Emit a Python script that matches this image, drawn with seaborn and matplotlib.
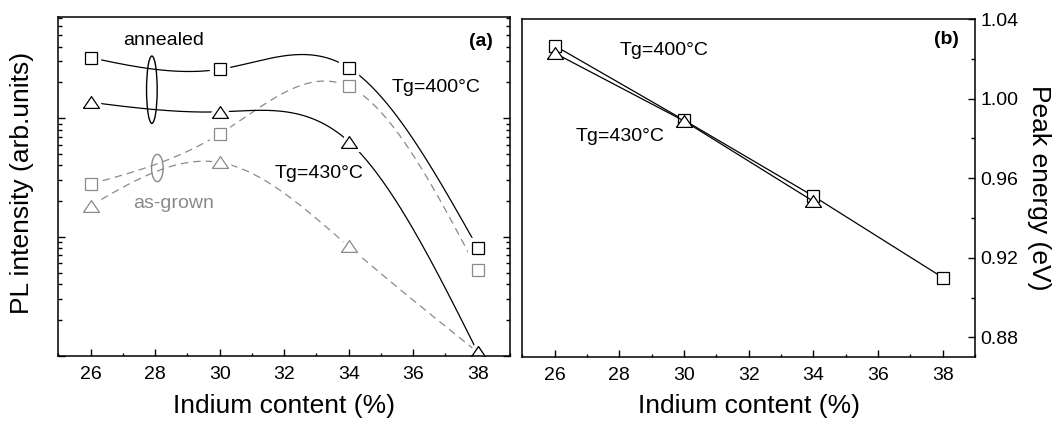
import numpy as np
import pandas as pd
import matplotlib
matplotlib.use("Agg")
import matplotlib.pyplot as plt
import seaborn as sns
from matplotlib.patches import Ellipse
from matplotlib.ticker import MultipleLocator, LogLocator, NullFormatter, FormatStrFormatter

# data
indium = [26, 30, 34, 38]
pl_annealed_400 = [32.3, 25.8, 26.6, 0.81]
pl_annealed_430 = [13.6, 11.3, 6.36, 0.107]
pl_grown_400 = [2.79, 7.35, 18.5, 0.524]
pl_grown_430 = [1.83, 4.24, 0.834, 0.107]

energy_400 = [1.0266, 0.9892, 0.9510, 0.9101]
indium_430 = [26, 30, 34]
energy_430 = [1.0229, 0.9888, 0.9484]

GRAY = "#8a8a8a"
TRI = [(-1, -0.74), (1, -0.74), (0, 0.74), (-1, -0.74)]


def spline_curve(xk, yk, num=300):
    # natural cubic spline in log space, like Origin's spline connector
    xk = np.asarray(xk, float)
    yk = np.log10(np.asarray(yk, float))
    n = len(xk)
    h = np.diff(xk)
    A = np.zeros((n, n))
    r = np.zeros(n)
    A[0, 0] = A[-1, -1] = 1
    for i in range(1, n - 1):
        A[i, i - 1] = h[i - 1]
        A[i, i] = 2 * (h[i - 1] + h[i])
        A[i, i + 1] = h[i]
        r[i] = 6 * ((yk[i + 1] - yk[i]) / h[i] - (yk[i] - yk[i - 1]) / h[i - 1])
    m = np.linalg.solve(A, r)
    xs = np.linspace(xk[0], xk[-1], num)
    idx = np.clip(np.searchsorted(xk, xs) - 1, 0, n - 2)
    x0, x1 = xk[idx], xk[idx + 1]
    hh = x1 - x0
    a = (x1 - xs) / hh
    b = (xs - x0) / hh
    ys = a * yk[idx] + b * yk[idx + 1] + ((a**3 - a) * m[idx] + (b**3 - b) * m[idx + 1]) * hh**2 / 6
    return pd.DataFrame({"x": xs, "y": 10**ys})


sns.set_theme(style="ticks")
plt.rcParams["font.family"] = ["Liberation Sans", "DejaVu Sans"]
plt.rcParams["axes.linewidth"] = 1.1
plt.rcParams["text.color"] = "black"
plt.rcParams["axes.labelcolor"] = "black"
plt.rcParams["xtick.color"] = "black"
plt.rcParams["ytick.color"] = "black"
plt.rcParams["axes.edgecolor"] = "black"

fig = plt.figure(figsize=(10.55, 4.25), dpi=100)
ax1 = fig.add_axes([0.05526, 0.16306, 0.42815, 0.79765])
ax2 = fig.add_axes([0.49507, 0.15929, 0.42910, 0.79600])

# ---- (a) PL intensity ----
series = [
    (pl_grown_400, GRAY, (0, (6, 4)), "s", 8),
    (pl_grown_430, GRAY, (0, (6, 4)), TRI, 11.5),
    (pl_annealed_400, "black", "-", "s", 8),
    (pl_annealed_430, "black", "-", TRI, 11.5),
]
for vals, col, ls, mk, ms in series:
    curve = spline_curve(indium, vals)
    sns.lineplot(data=curve, x="x", y="y", ax=ax1, color=col, linestyle=ls, lw=0.9, zorder=2)
for vals, col, ls, mk, ms in series:
    ax1.plot(indium, vals, ls="none", marker=mk, ms=ms, mfc="white", mec="white", mew=6, zorder=3)
for vals, col, ls, mk, ms in series:
    ax1.plot(indium, vals, ls="none", marker=mk, ms=ms, mfc="white", mec=col, mew=0.9, zorder=4)

ax1.set_yscale("log")
ax1.set_xlim(25, 39)
ax1.set_ylim(0.1, 71.5)
ax1.xaxis.set_major_locator(MultipleLocator(2))
ax1.xaxis.set_minor_locator(MultipleLocator(1))
ax1.yaxis.set_major_locator(LogLocator(base=10))
ax1.yaxis.set_minor_locator(LogLocator(base=10, subs=np.arange(2, 10)))
ax1.yaxis.set_major_formatter(NullFormatter())
ax1.yaxis.set_minor_formatter(NullFormatter())
ax1.tick_params(axis="both", which="both", direction="in", top=False, right=True,
                labelleft=False, colors="black", width=1)
ax1.tick_params(axis="x", which="major", length=5, pad=7.5, labelsize=14)
ax1.tick_params(axis="x", which="minor", length=2.5)
ax1.tick_params(axis="y", which="major", length=5)
ax1.tick_params(axis="y", which="minor", length=3)
ax1.set_xlabel("Indium content (%)", fontsize=19)
ax1.set_ylabel("PL intensity (arb.units)", fontsize=19)
ax1.xaxis.set_label_coords(0.5, -0.113)
ax1.yaxis.set_label_coords(-0.054, 0.51)

ax1.add_patch(Ellipse((27.9, 0.7847), 0.33, 0.1985, transform=ax1.get_xaxis_transform(),
                      fill=False, ec="black", lw=1.0, zorder=5))
ax1.add_patch(Ellipse((28.07, 0.5537), 0.36, 0.0805, transform=ax1.get_xaxis_transform(),
                      fill=False, ec=GRAY, lw=1.0, zorder=5))
ax1.text(28.27, 44.9, "annealed", fontsize=14, ha="center", va="center")
ax1.text(28.56, 1.905, "as-grown", fontsize=14, ha="center", va="center", color=GRAY)
ax1.text(36.72, 18.2, "Tg=400°C", fontsize=14, ha="center", va="center")
ax1.text(33.08, 3.45, "Tg=430°C", fontsize=14, ha="center", va="center")
ax1.text(0.9617, 0.926, "(a)", transform=ax1.transAxes, fontsize=14, fontweight="bold",
         ha="right", va="center")

# ---- (b) peak energy ----
sns.lineplot(x=indium, y=energy_400, ax=ax2, color="black", lw=0.9, marker="s", ms=8,
             mfc="white", markeredgecolor="black", markeredgewidth=0.9, zorder=3)
sns.lineplot(x=indium_430, y=energy_430, ax=ax2, color="black", lw=0.9, marker=TRI, ms=11.5,
             mfc="white", markeredgecolor="black", markeredgewidth=0.9, zorder=4)
ax2.set_xlim(25, 39)
ax2.set_ylim(0.87, 1.04)
ax2.xaxis.set_major_locator(MultipleLocator(2))
ax2.xaxis.set_minor_locator(MultipleLocator(1))
ax2.yaxis.set_major_locator(MultipleLocator(0.04))
ax2.yaxis.set_minor_locator(MultipleLocator(0.02))
ax2.yaxis.set_major_formatter(FormatStrFormatter("%.2f"))
ax2.yaxis.tick_right()
ax2.tick_params(axis="both", which="both", direction="in", left=False, top=False, right=True,
                labelleft=False, labelright=True, colors="black", width=1)
ax2.tick_params(axis="x", which="major", length=5, pad=6.8, labelsize=14)
ax2.tick_params(axis="x", which="minor", length=2.5)
ax2.tick_params(axis="y", which="major", length=5, pad=4, labelsize=14)
ax2.tick_params(axis="y", which="minor", length=3)
ax2.set_xlabel("Indium content (%)", fontsize=19)
ax2.xaxis.set_label_coords(0.5, -0.108)
ax2.yaxis.set_label_position("right")
ax2.set_ylabel("Peak energy (eV)", fontsize=19, rotation=270)
ax2.yaxis.label.set_verticalalignment("bottom")
ax2.yaxis.set_label_coords(1.114, 0.5)

ax2.text(29.37, 1.0244, "Tg=400°C", fontsize=14, ha="center", va="center")
ax2.text(28.02, 0.9808, "Tg=430°C", fontsize=14, ha="center", va="center")
ax2.text(0.9647, 0.940, "(b)", transform=ax2.transAxes, fontsize=14, fontweight="bold",
         ha="right", va="center")

for ax in (ax1, ax2):
    for sp in ax.spines.values():
        sp.set_visible(True)
        sp.set_color("black")
        sp.set_zorder(6)

fig.savefig("out.png", dpi=100)
